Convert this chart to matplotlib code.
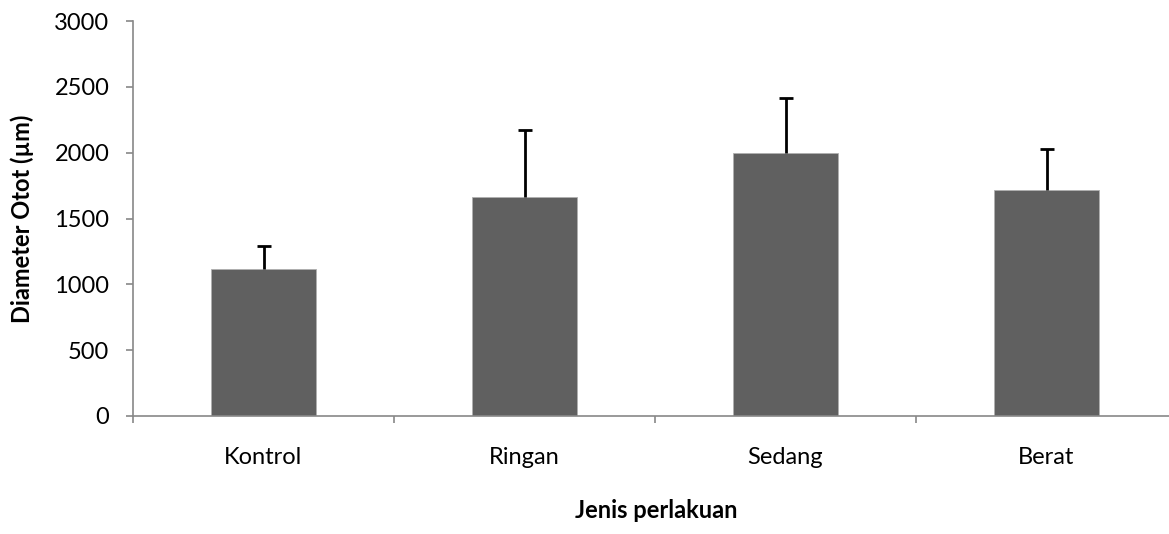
import matplotlib
matplotlib.use('Agg')
import matplotlib.pyplot as plt
import numpy as np

categories = ['Kontrol', 'Ringan', 'Sedang', 'Berat']
diameter = [1115, 1665, 2000, 1720]
sd = [177, 504, 417, 307]

plt.rcParams['font.family'] = ['Lato', 'DejaVu Sans']

fig = plt.figure(figsize=(11.69, 5.34), dpi=100)
W, H = 1169, 534
ax = fig.add_axes([133 / W, 1 - 416 / H, (1177 - 133) / W, (416 - 21) / H])

x = np.arange(len(categories))
ax.bar(x, diameter, width=0.4, color='#606060', edgecolor='#b0b0b0', linewidth=0.6, zorder=2)
eb = ax.errorbar(x, diameter, yerr=[np.zeros(len(sd)), sd], fmt='none', ecolor='black',
                 elinewidth=2, capsize=5, capthick=2, zorder=3)
# only the upper caps
eb[1][0].set_visible(False)

ax.set_xlim(-0.5, 3.5)
ax.set_ylim(0, 3000)
ax.set_yticks(np.arange(0, 3001, 500))
ax.set_xticks(x)
ax.set_xticklabels(categories)
ax.set_xticks(np.arange(-0.5, 3.6, 1), minor=True)
ax.tick_params(axis='x', which='major', length=0, pad=22, labelsize=17)
ax.tick_params(axis='x', which='minor', length=5, width=1.2, color='#888888', direction='out')
ax.tick_params(axis='y', length=5, width=1.2, color='#888888', labelsize=17, pad=12)

for s in ['top', 'right']:
    ax.spines[s].set_visible(False)
for s in ['left', 'bottom']:
    ax.spines[s].set_color('#888888')
    ax.spines[s].set_linewidth(1.2)

ax.set_ylabel('Diameter Otot (µm)', fontsize=17, fontweight='bold')
ax.yaxis.set_label_coords(-(133 - 22) / (1177 - 133), 0.5)
ax.set_xlabel('Jenis perlakuan', fontsize=17, fontweight='bold')
ax.xaxis.set_label_coords((656 - 133) / (1177 - 133), -(510 - 416) / (416 - 21))
ax.xaxis.label.set_va('center')
ax.yaxis.label.set_va('center')

fig.savefig('out.png', dpi=100)
